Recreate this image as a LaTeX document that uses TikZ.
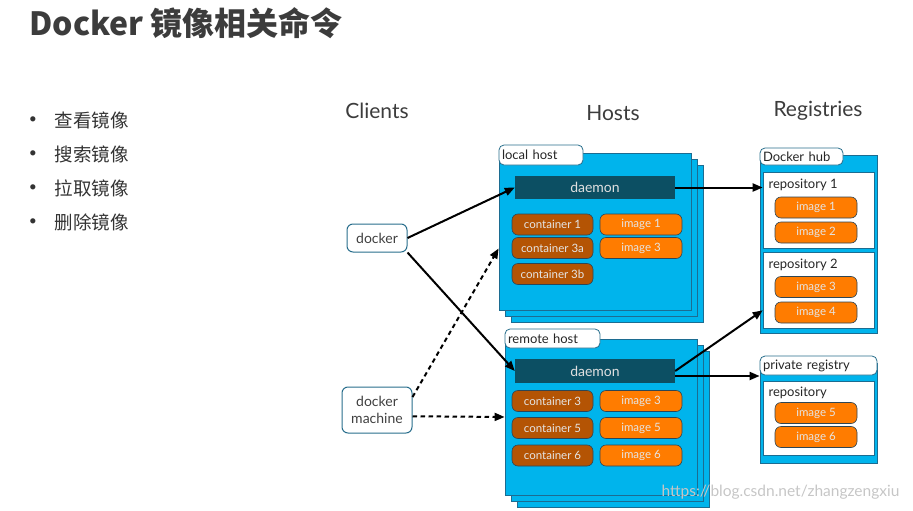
\documentclass[tikz,border=0pt]{standalone}
\usepackage{fontspec}
\setmainfont{Lato}
\newfontfamily\cjk{Noto Sans CJK SC}
\usetikzlibrary{arrows.meta,shadows}
\definecolor{dockerblue}{RGB}{0,180,236}
\definecolor{hostedge}{RGB}{28,108,145}
\definecolor{tabedge}{RGB}{40,110,140}
\definecolor{daemonfill}{RGB}{12,79,99}
\definecolor{containerfill}{RGB}{180,84,4}
\definecolor{imagefill}{RGB}{255,124,0}
\definecolor{itemedge}{RGB}{45,70,85}
\definecolor{headtext}{RGB}{60,60,60}
\begin{document}
\begin{tikzpicture}
[x=1pt,y=-1pt,
  hostdecorate/.style={shape=rectangle,inner sep=0pt,fill=dockerblue,draw=hostedge,line width=0.8pt,%
    copy shadow={shadow xshift=12pt,shadow yshift=-12pt},copy shadow={shadow xshift=6pt,shadow yshift=-6pt}},%
  regdecorate/.style={shape=rectangle,inner sep=0pt,fill=dockerblue,draw=hostedge,line width=0.8pt},%
  repodecorate/.style={shape=rectangle,inner sep=0pt,fill=white,draw=hostedge,line width=0.6pt,minimum width=111pt},%
  tabdecorate/.style={shape=rectangle,rounded corners=5pt,fill=white,draw=tabedge,line width=0.8pt,%
    inner xsep=3pt,inner ysep=0pt,align=left,text=black!85,font=\fontsize{13}{15}\selectfont},%
  daemondecorate/.style={shape=rectangle,fill=daemonfill,minimum width=160pt,minimum height=23pt,%
    text=white!88!black,font=\fontsize{14}{16}\selectfont},%
  containerdecorate/.style={shape=rectangle,rounded corners=6pt,fill=containerfill,draw=itemedge,line width=0.6pt,%
    minimum width=81pt,minimum height=21pt,inner sep=0pt,text=white!90!black,font=\fontsize{11.5}{13}\selectfont},%
  imagedecorate/.style={containerdecorate,fill=imagefill,minimum width=82pt},%
  clientdecorate/.style={shape=rectangle,rounded corners=6pt,fill=white,draw=tabedge,line width=1pt,%
    align=center,inner sep=0pt,text=black!75,font=\fontsize{14}{17}\selectfont},%
  headdecorate/.style={text=headtext,font=\fontsize{21}{24}\selectfont},%
  linedecorate/.style={-{Triangle[length=10pt,width=8pt]},line width=2pt},%
  dashdecorate/.style={linedecorate,dash pattern=on 4.5pt off 3.5pt}]
\useasboundingbox (0,0) rectangle (913,511);
%% title and list
\node (title) at (26,23) [anchor=west,text=headtext,font=\cjk\bfseries\fontsize{32}{36}\selectfont] {Docker 镜像相关命令};
\foreach \nodename/\y/\txt in {look/120/查看镜像, search/154/搜索镜像, pull/188/拉取镜像, remove/222/删除镜像}
{
  \node (\nodename) at (51,\y) [anchor=west,text=black!80,font=\cjk\fontsize{18.5}{20}\selectfont] {\txt};
  \node at (33,\y) [text=black!80,font=\fontsize{14}{16}\selectfont] {\textbullet};
}
%% column heads
\node (clients) at (377,111) [headdecorate] {Clients};
\node (hosts) at (613,113) [headdecorate] {Hosts};
\node (registries) at (818,111) [headdecorate] {Registries};
%% clients
\node (docker) at (377,238) [clientdecorate,minimum width=60pt,minimum height=28pt] {docker};
\node (machine) at (377,410) [clientdecorate,minimum width=70pt,minimum height=46pt] {docker\\machine};
%% hosts
\node (localhost) at (595,231.5) [hostdecorate,minimum width=192pt,minimum height=157pt] {};
\node (remotehost) at (601,417) [hostdecorate,minimum width=192pt,minimum height=156pt] {};
\node (localtab) at (541,155) [tabdecorate,text width=78pt,minimum height=20pt] {local host};
\node (remotetab) at (552.5,338.5) [tabdecorate,text width=89pt,minimum height=19pt] {remote host};
\node (localdaemon) at (595,187.5) [daemondecorate] {daemon};
\node (remotedaemon) at (595,371) [daemondecorate,minimum height=24pt] {daemon};
\foreach \nodename/\x/\y/\kind/\txt in {
  lcone/552.5/224.5/containerdecorate/container 1, lcthreea/552.5/248/containerdecorate/container 3a,
  lcthreeb/552.5/274/containerdecorate/container 3b, lione/641/224.5/imagedecorate/image 1,
  lithree/641/248/imagedecorate/image 3,
  rcthree/552.5/401/containerdecorate/container 3, rcfive/552.5/428/containerdecorate/container 5,
  rcsix/552.5/455.5/containerdecorate/container 6, rithree/641/401/imagedecorate/image 3,
  rifive/641/428/imagedecorate/image 5, risix/641/455.5/imagedecorate/image 6}
{
  \node (\nodename) at (\x,\y) [\kind] {\txt};
}
%% registries
\node (dockerhub) at (818.5,244) [regdecorate,minimum width=117pt,minimum height=178pt] {};
\node (privreg) at (818.5,413) [regdecorate,minimum width=117pt,minimum height=100pt] {};
\node (hubtab) at (801.5,156.5) [tabdecorate,text width=77pt,minimum height=17pt] {Docker hub};
\node (privtab) at (818.5,365.5) [tabdecorate,text width=111pt,minimum height=19pt] {private registry};
\foreach \nodename/\y/\h/\txt/\ty in {
  repoone/210/76/repository 1/185, repotwo/290/76/repository 2/265, repopriv/418/74/repository/393}
{
  \node (\nodename) at (818.5,\y) [repodecorate,minimum height=\h pt] {};
  \node at (765,\ty) [anchor=west,text=black!85,font=\fontsize{13}{15}\selectfont] {\txt};
}
\foreach \nodename/\y/\txt in {
  hione/207.5/image 1, hitwo/232.5/image 2, hithree/287/image 3,
  hifour/312.5/image 4, pifive/413/image 5, pisix/437/image 6}
{
  \node (\nodename) at (816,\y) [imagedecorate] {\txt};
}
%% edges or lines
\draw[linedecorate] (docker.east) -- (localdaemon.west);
\draw[linedecorate] (docker.south east) -- (remotedaemon.west);
\draw[dashdecorate] (machine.20) -- (localhost.190);
\draw[dashdecorate] (machine.-10) -- (remotehost.west);
\draw[linedecorate] (localdaemon.east) -- (localdaemon.east -| repoone.west);
\draw[linedecorate] (remotedaemon.east) -- (repotwo.200);
\draw[linedecorate] ([yshift=-5pt]remotedaemon.east) -- ([yshift=-5pt]remotedaemon.east -| privreg.west);
%% watermark
\node (mark) at (658,492) [anchor=west,text=gray!45,font=\fontsize{15.5}{17}\selectfont] {https://blog.csdn.net/zhangzengxiu};
\end{tikzpicture}
\end{document}
